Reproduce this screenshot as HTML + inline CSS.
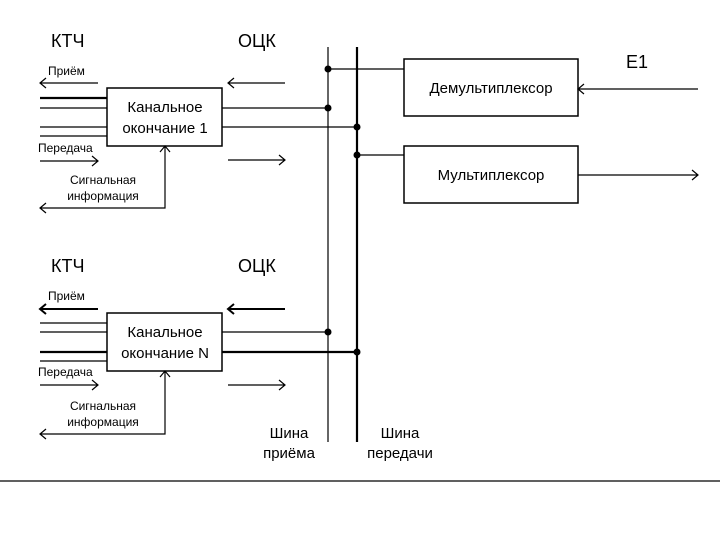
<!DOCTYPE html><html><head><style>body{margin:0;background:#fff}svg{display:block}text{font-family:"Liberation Sans",sans-serif;fill:#000}</style></head><body>
<svg width="720" height="540" viewBox="0 0 720 540" xmlns="http://www.w3.org/2000/svg">
<g stroke="#000" fill="none" stroke-width="1.2">
<!-- block 1 -->
<rect x="107" y="88" width="115" height="58" stroke-width="1.5"/>
<line x1="40" y1="98" x2="107" y2="98" stroke-width="2.2"/>
<line x1="40" y1="108" x2="107" y2="108"/>
<line x1="40" y1="127" x2="107" y2="127"/>
<line x1="40" y1="136" x2="107" y2="136"/>
<path d="M98 83H40M46 78L40 83L46 88"/>
<path d="M40 161H98M92 156L98 161L92 166"/>
<path d="M40 208H165V146M160 152L165 146L170 152M46 203L40 208L46 213"/>
<path d="M285 83H228M234 78L228 83L234 88"/>
<path d="M228 160H285M279 155L285 160L279 165"/>
<line x1="222" y1="108" x2="328" y2="108"/>
<line x1="222" y1="127" x2="357" y2="127"/>
<!-- block N -->
<rect x="107" y="313" width="115" height="58" stroke-width="1.5"/>
<line x1="40" y1="323" x2="107" y2="323"/>
<line x1="40" y1="332" x2="107" y2="332"/>
<line x1="40" y1="352" x2="107" y2="352" stroke-width="2.2"/>
<line x1="40" y1="361" x2="107" y2="361"/>
<path d="M98 309H40M46 304L40 309L46 314" stroke-width="2"/>
<path d="M40 385H98M92 380L98 385L92 390"/>
<path d="M40 434H165V371M160 377L165 371L170 377M46 429L40 434L46 439"/>
<path d="M285 309H228M234 304L228 309L234 314" stroke-width="2"/>
<path d="M228 385H285M279 380L285 385L279 390"/>
<line x1="222" y1="332" x2="328" y2="332"/>
<line x1="222" y1="352" x2="357" y2="352" stroke-width="2.2"/>
<!-- buses -->
<line x1="328" y1="47" x2="328" y2="442"/>
<line x1="357" y1="47" x2="357" y2="442" stroke-width="2.2"/>
<line x1="328" y1="69" x2="404" y2="69"/>
<line x1="357" y1="155" x2="404" y2="155"/>
<rect x="404" y="59" width="174" height="57" stroke-width="1.5"/>
<rect x="404" y="146" width="174" height="57" stroke-width="1.5"/>
<path d="M698 89H578M584 84L578 89L584 94"/>
<path d="M578 175H698M692 170L698 175L692 180"/>
<line x1="0" y1="481" x2="720" y2="481"/>
</g>
<g fill="#000">
<circle cx="328" cy="69" r="3.5"/><circle cx="328" cy="108" r="3.5"/><circle cx="357" cy="127" r="3.5"/><circle cx="357" cy="155" r="3.5"/>
<circle cx="328" cy="332" r="3.5"/><circle cx="357" cy="352" r="3.5"/>
</g>
<g font-size="18">
<text x="51" y="47">КТЧ</text><text x="238" y="47">ОЦК</text>
<text x="51" y="272">КТЧ</text><text x="238" y="272">ОЦК</text>
<text x="626" y="68">E1</text>
</g>
<g font-size="15" text-anchor="middle">
<text x="165" y="112">Канальное</text><text x="165" y="133">окончание 1</text>
<text x="165" y="337">Канальное</text><text x="165" y="358">окончание N</text>
<text x="491" y="93">Демультиплексор</text>
<text x="491" y="180">Мультиплексор</text>
<text x="289" y="438">Шина</text><text x="289" y="458">приёма</text>
<text x="400" y="438">Шина</text><text x="400" y="458">передачи</text>
</g>
<g font-size="12">
<text x="48" y="75">Приём</text><text x="38" y="152">Передача</text>
<text x="103" y="184" text-anchor="middle">Сигнальная</text><text x="103" y="200" text-anchor="middle">информация</text>
<text x="48" y="300">Приём</text><text x="38" y="376">Передача</text>
<text x="103" y="410" text-anchor="middle">Сигнальная</text><text x="103" y="426" text-anchor="middle">информация</text>
</g>
</svg></body></html>
